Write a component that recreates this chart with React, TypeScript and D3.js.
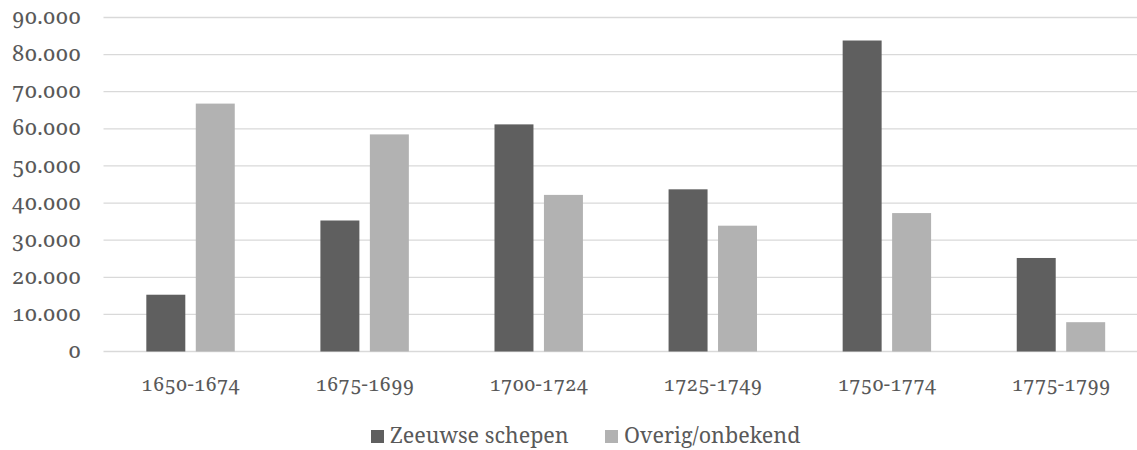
import React, { useEffect, useRef } from "react";
import * as d3 from "d3";

const periods = ["1650-1674", "1675-1699", "1700-1724", "1725-1749", "1750-1774", "1775-1799"];
const seriesNames = ["Zeeuwse schepen", "Overig/onbekend"];
const zeeuwse = [15300, 35300, 61200, 43700, 83800, 25200];
const overig = [66800, 58500, 42200, 33900, 37300, 7900];
const yTicks = [0, 10000, 20000, 30000, 40000, 50000, 60000, 70000, 80000, 90000];

const colors = ["#5f5f5f", "#b2b2b2"];
const fontFamily = "'Noto Serif', 'DejaVu Serif', serif";

export default function App() {
  const ref = useRef<SVGSVGElement>(null);

  useEffect(() => {
    const width = 1137;
    const svg = d3.select(ref.current);
    svg.selectAll("*").remove();

    const nl = d3.formatLocale({ decimal: ",", thousands: ".", grouping: [3], currency: ["€", ""] });
    const fmt = nl.format(",d");

    const y = d3.scaleLinear().domain([0, 90000]).range([351.5, 17.5]);
    const x0 = d3.scaleBand<string>().domain(periods).range([103.5, 1148]);
    const groupW = x0.bandwidth() * 0.508;
    const x1 = d3.scaleBand<string>()
      .domain(seriesNames)
      .range([-groupW / 2, groupW / 2])
      .paddingInner(0.212);

    // gridlines
    svg.append("g")
      .selectAll("line")
      .data(yTicks)
      .enter().append("line")
      .attr("x1", 103.5)
      .attr("x2", width)
      .attr("y1", d => y(d))
      .attr("y2", d => y(d))
      .attr("stroke", "#d9d9d9")
      .attr("stroke-width", 1.3);

    // y labels
    svg.append("g")
      .selectAll("text")
      .data(yTicks)
      .enter().append("text")
      .attr("x", 81)
      .attr("y", d => y(d))
      .attr("dy", "0.3em")
      .attr("text-anchor", "end")
      .attr("fill", "#595959")
      .style("font-family", fontFamily)
      .style("font-size", "22px")
      .style("font-variant-numeric", "oldstyle-nums")
      .text(d => fmt(d));

    const seriesData = [zeeuwse, overig];
    seriesData.forEach((vals, si) => {
      svg.append("g")
        .selectAll("rect")
        .data(vals)
        .enter().append("rect")
        .attr("x", (d, i) => x0(periods[i])! + x0.bandwidth() / 2 + x1(seriesNames[si])!)
        .attr("width", x1.bandwidth())
        .attr("y", d => y(d))
        .attr("height", d => y(0) - y(d))
        .attr("fill", colors[si]);
    });

    // x labels
    svg.append("g")
      .selectAll("text")
      .data(periods)
      .enter().append("text")
      .attr("x", d => x0(d)! + x0.bandwidth() / 2)
      .attr("y", 391)
      .attr("text-anchor", "middle")
      .attr("fill", "#595959")
      .style("font-family", fontFamily)
      .style("font-size", "20px")
      .style("font-variant-numeric", "oldstyle-nums")
      .text(d => d);

    // legend
    const legendX = [371, 605];
    const legend = svg.append("g");
    seriesNames.forEach((name, i) => {
      legend.append("rect")
        .attr("x", legendX[i])
        .attr("y", 430)
        .attr("width", 13)
        .attr("height", 13)
        .attr("fill", colors[i]);
      legend.append("text")
        .attr("x", legendX[i] + 19)
        .attr("y", 443)
        .attr("fill", "#595959")
        .style("font-family", fontFamily)
        .style("font-size", "21.5px")
        .text(name);
    });
  }, []);

  return (
    <svg
      ref={ref}
      width={1137}
      height={450}
      style={{ position: "absolute", left: 0, top: 0, background: "#fff" }}
    />
  );
}
